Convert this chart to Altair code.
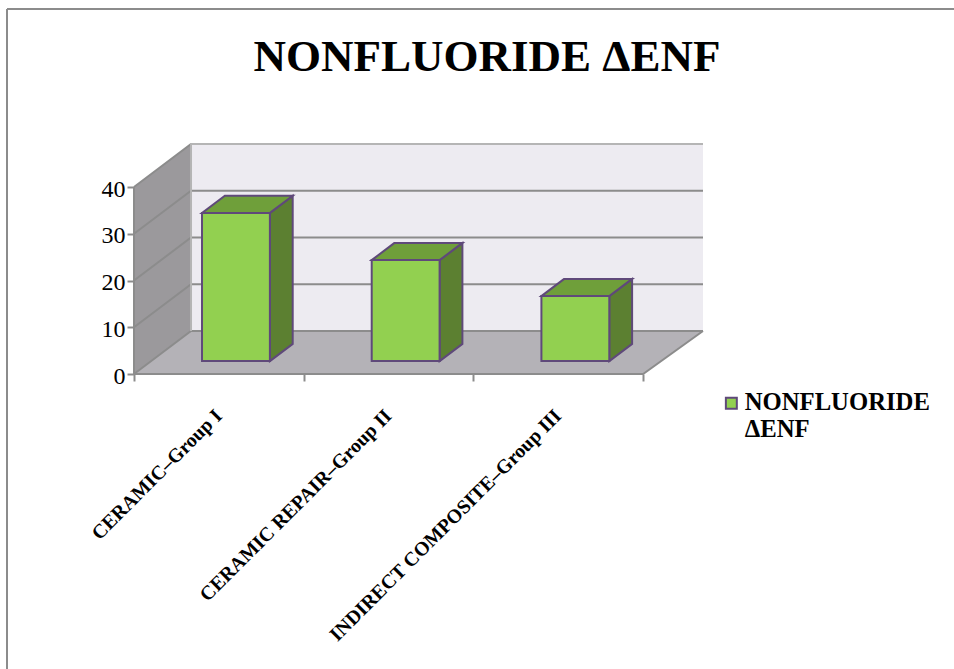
import altair as alt
import pandas as pd

# Series values and labels
categories = ["CERAMIC–Group I", "CERAMIC REPAIR–Group II", "INDIRECT COMPOSITE–Group III"]
values = [31.7, 21.6, 13.9]
y_ticks = [0, 10, 20, 30, 40]
x_ticks = [0, 1, 2, 3]
series_name = "NONFLUORIDE ΔENF"

# Oblique projection: one unit of depth moves a point right and up in data units
DEPTH_X = 0.336
DEPTH_Y = 9.2
X_MAX = 3.353
Y_MAX = 49.2
BAR_WIDTH = 0.4
BAR_D0, BAR_D1 = 0.3, 0.7

FONT = "Liberation Serif"
GRAY = "#8c8c8c"
PURPLE = "#5f497a"

x_scale = alt.Scale(domain=[0, X_MAX], nice=False, zero=False)
y_scale = alt.Scale(domain=[0, Y_MAX], nice=False, zero=False)

X = alt.X("x:Q", scale=x_scale, title=None,
          axis=alt.Axis(values=x_ticks, labels=False, grid=False, domain=False,
                        tickColor=GRAY, tickWidth=2, tickSize=7))
Y = alt.Y("y:Q", scale=y_scale, title=None,
          axis=alt.Axis(values=y_ticks, grid=False, domain=False, tickColor=GRAY,
                        tickWidth=2, tickSize=7, labelFont=FONT, labelFontSize=24,
                        labelColor="black", labelPadding=2, labelOffset=2))

# Chart walls and floor
back_wall = alt.Chart(pd.DataFrame({
    "x": [DEPTH_X], "x2": [X_MAX], "y": [DEPTH_Y], "y2": [40 + DEPTH_Y]
})).mark_rect(fill="#edebf1").encode(x=X, x2="x2:Q", y=Y, y2="y2:Q")

side_wall = alt.Chart(pd.DataFrame({
    "x": [0, DEPTH_X], "y": [0, DEPTH_Y], "y2": [40, 40 + DEPTH_Y]
})).mark_area(fill="#9b999c", opacity=1).encode(x=X, y=Y, y2="y2:Q")

floor = alt.Chart(pd.DataFrame({
    "y": [0, DEPTH_Y], "x": [0, DEPTH_X], "x2": [3, X_MAX]
})).mark_area(fill="#b4b2b7", orient="horizontal", opacity=1).encode(
    x=X, x2="x2:Q", y=Y)

# Gridlines bend from the side wall onto the back wall
grid_rows = []
for v in y_ticks:
    grid_rows += [
        {"tick": v, "step": 0, "x": 0, "y": v},
        {"tick": v, "step": 1, "x": DEPTH_X, "y": v + DEPTH_Y},
        {"tick": v, "step": 2, "x": X_MAX, "y": v + DEPTH_Y},
    ]
grid = alt.Chart(pd.DataFrame(grid_rows)).mark_line(color=GRAY, strokeWidth=2).encode(
    x=X, y=Y, detail="tick:N", order="step:Q")

# Outline of the walls and floor front edges
edge_rows = [
    {"edge": "front", "step": 0, "x": 0, "y": 40},
    {"edge": "front", "step": 1, "x": 0, "y": 0},
    {"edge": "front", "step": 2, "x": 3, "y": 0},
    {"edge": "front", "step": 3, "x": X_MAX, "y": DEPTH_Y},
    {"edge": "top", "step": 0, "x": DEPTH_X, "y": DEPTH_Y},
    {"edge": "top", "step": 1, "x": DEPTH_X, "y": 40 + DEPTH_Y},
    {"edge": "top", "step": 2, "x": X_MAX, "y": 40 + DEPTH_Y},
]
edges = alt.Chart(pd.DataFrame(edge_rows)).mark_line(strokeWidth=2).encode(
    x=X, y=Y, detail="edge:N", order="step:Q",
    color=alt.Color("edge:N", legend=None,
                    scale=alt.Scale(domain=["front", "top"], range=[GRAY, "#b5b5b5"])))

# Bars: front, top and side faces projected from each value
front_rows, side_rows, top_rows = [], [], []
for i, v in enumerate(values):
    left = i + 0.5 - BAR_WIDTH / 2 + BAR_D0 * DEPTH_X
    right = left + BAR_WIDTH
    base = BAR_D0 * DEPTH_Y
    shift_x = (BAR_D1 - BAR_D0) * DEPTH_X
    shift_y = (BAR_D1 - BAR_D0) * DEPTH_Y
    front_rows.append({"x": left, "x2": right, "y": base, "y2": base + v, "series": series_name})
    side_rows += [
        {"bar": i, "x": right, "y": base, "y2": base + v},
        {"bar": i, "x": right + shift_x, "y": base + shift_y, "y2": base + v + shift_y},
    ]
    top_rows += [
        {"bar": i, "y": base + v, "x": left, "x2": right},
        {"bar": i, "y": base + v + shift_y, "x": left + shift_x, "x2": right + shift_x},
    ]

side_faces = alt.Chart(pd.DataFrame(side_rows)).mark_area(
    fill="#5c8031", stroke=PURPLE, strokeWidth=2, opacity=1
).encode(x=X, y=Y, y2="y2:Q", detail="bar:N")

top_faces = alt.Chart(pd.DataFrame(top_rows)).mark_area(
    fill="#6f9f3a", stroke=PURPLE, strokeWidth=2, orient="horizontal", opacity=1
).encode(x=X, x2="x2:Q", y=Y, detail="bar:N")

front_faces = alt.Chart(pd.DataFrame(front_rows)).mark_rect(
    stroke=PURPLE, strokeWidth=2
).encode(
    x=X, x2="x2:Q", y=Y, y2="y2:Q",
    fill=alt.Fill("series:N", scale=alt.Scale(domain=[series_name], range=["#92d050"]),
                  legend=alt.Legend(title=None, orient="none", legendX=585, legendY=247,
                                    labelExpr="split(datum.label, ' ')",
                                    labelFont=FONT, labelFontSize=24.7, labelFontWeight="bold",
                                    labelColor="black", labelLimit=300, symbolType="square",
                                    symbolSize=120, symbolStrokeColor=PURPLE,
                                    symbolStrokeWidth=2, labelOffset=1)),
)

# Slanted category names below the axis
labels = alt.Chart(pd.DataFrame({
    "x": [i + 0.5 for i in range(len(categories))], "name": categories
})).mark_text(
    font=FONT, fontSize=19.8, fontWeight="bold", angle=315, align="right",
    baseline="middle", color="black"
).encode(x=X, y=alt.value(269), text="name:N")

# Heading above the plot
heading = alt.Chart(pd.DataFrame({"name": [series_name]})).mark_text(
    font=FONT, fontSize=45, fontWeight="bold", align="center", baseline="alphabetic",
    color="black"
).encode(x=alt.value(353), y=alt.value(-73), text="name:N")

# Thin frame around the whole chart
frame_left = alt.Chart(pd.DataFrame({"x": [0]})).mark_rule(color=GRAY, strokeWidth=2).encode(
    x=alt.value(-127), y=alt.value(-135), y2=alt.value(525))
frame_top = alt.Chart(pd.DataFrame({"x": [0]})).mark_rule(color=GRAY, strokeWidth=2).encode(
    x=alt.value(-127), x2=alt.value(820), y=alt.value(-135))

chart = alt.layer(
    back_wall, side_wall, floor, grid, edges, side_faces, top_faces, front_faces, labels,
    heading, frame_left, frame_top
).resolve_scale(color="independent", fill="independent").properties(
    width=569, height=230,
    padding={"left": 134, "top": 144, "right": 251, "bottom": 295},
    autosize=alt.AutoSizeParams(type="none"),
    background="white",
).configure_view(stroke=None)

chart.save("out.html", embed_options={"renderer": "svg", "actions": False})
